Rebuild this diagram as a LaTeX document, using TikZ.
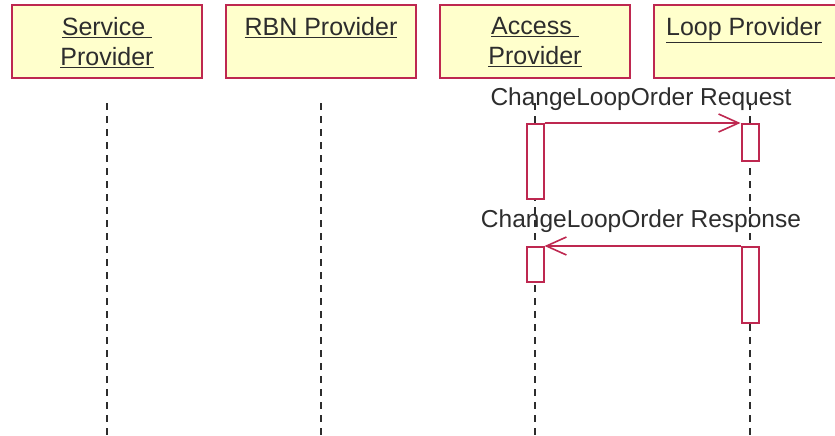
\documentclass[tikz,border=0pt]{standalone}
\usepackage{fontspec}
\setmainfont{Liberation Sans}
\usetikzlibrary{arrows.meta,positioning}

\definecolor{umlred}{RGB}{190,40,80}
\definecolor{umlfill}{RGB}{255,255,204}
\definecolor{umltext}{RGB}{45,45,45}

\tikzset{
  headbox/.style={draw=umlred, fill=umlfill, line width=2pt, minimum width=190pt, minimum height=73pt, inner sep=0pt},
  headtext/.style={font=\fontsize{25}{30}\selectfont, text=umltext, align=center, anchor=north, inner sep=0pt},
  lifeline/.style={umltext, line width=1.8pt, dash pattern=on 7pt off 6pt},
  actbox/.style={draw=umlred, fill=white, line width=2pt, minimum width=17pt, inner sep=0pt},
  msg/.style={umlred, line width=1.6pt, -{Straight Barb[length=20pt, width=18pt, line width=1.6pt]}},
  msgtext/.style={font=\fontsize{24.5}{28}\selectfont, text=umltext, anchor=base, inner sep=0pt}
}

\begin{document}
\begin{tikzpicture}[x=1pt, y=-1pt]
\useasboundingbox (0,0) rectangle (835,436);

% ── Heads ──
\node[headbox] (sp)  at (107, 41.5) {};
\node[headbox] (rbn) at (321, 41.5) {};
\node[headbox] (ap)  at (535, 41.5) {};
\node[headbox] (lp)  at (749, 41.5) {};

\node[headtext, below=13pt of sp.north]  (sp-txt)  {\underline{Service\ }\\\underline{Provider}};
\node[headtext, below=13pt of rbn.north] (rbn-txt) {\underline{RBN Provider}};
\node[headtext, below=13pt of ap.north]  (ap-txt)  {\underline{Access\ }\\\underline{Provider}};
\node[headtext, below=13pt of lp.north, xshift=-5pt] (lp-txt) {\underline{Loop Provider}};

% ── Lifelines ──
\foreach \n/\x in {sp/107, rbn/321, ap/535, lp/750} {
  \coordinate (\n-top) at (\x, 103);
  \coordinate (\n-end) at (\x, 436);
  \draw[lifeline] (\n-top) -- (\n-end);
}

% ── Activations ──
\node[actbox, minimum height=75pt, anchor=north] (ap-act1) at (535, 123) {};
\node[actbox, minimum height=37pt, anchor=north] (lp-act1) at (750, 123) {};
\node[actbox, minimum height=35pt, anchor=north] (ap-act2) at (535, 246) {};
\node[actbox, minimum height=76pt, anchor=north] (lp-act2) at (750, 246) {};

% ── Messages ──
\draw[msg] (ap-act1.north east) -- (lp-act1.north west);
\node[msgtext] (req) at (641, 105) {ChangeLoopOrder Request};

\draw[msg] (lp-act2.north west) -- (ap-act2.north east);
\node[msgtext] (resp) at (641, 227) {ChangeLoopOrder Response};

\end{tikzpicture}
\end{document}
